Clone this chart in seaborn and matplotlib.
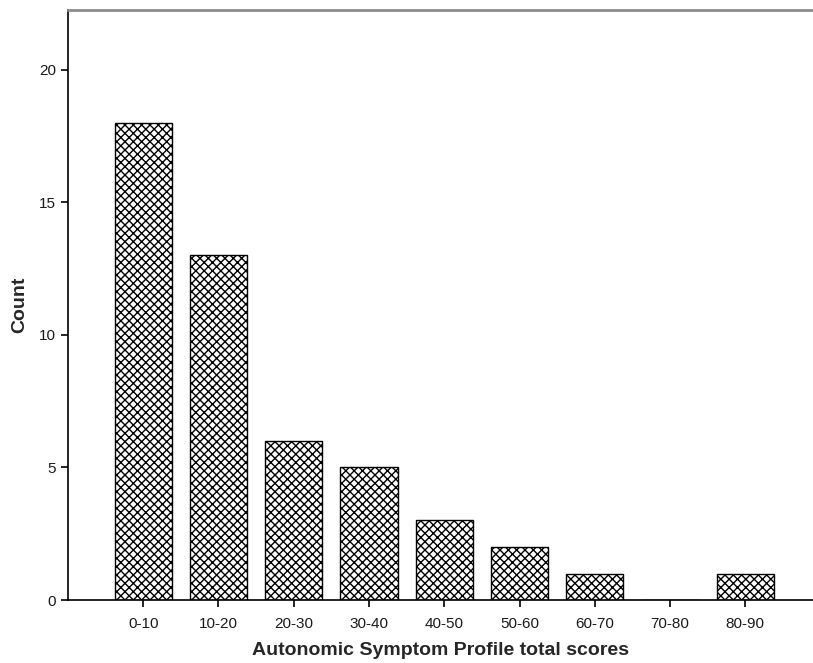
import matplotlib.pyplot as plt
import seaborn as sns
import pandas as pd

score_bins = ["0-10", "10-20", "20-30", "30-40", "40-50", "50-60", "60-70", "70-80", "80-90"]
counts = [18, 13, 6, 5, 3, 2, 1, 0, 1]

df = pd.DataFrame({"bin": score_bins, "count": counts})

sns.set_style("white")
plt.rcParams["font.family"] = ["Liberation Sans", "DejaVu Sans"]
plt.rcParams["hatch.linewidth"] = 1.0
plt.rcParams["hatch.color"] = "black"

fig = plt.figure(figsize=(8.13, 6.63), dpi=100)
ax = fig.add_axes([0.0836, 0.095, 0.9164, 0.890])

sns.barplot(x="bin", y="count", data=df, order=score_bins, color="white",
            edgecolor="black", linewidth=1.0, width=0.76, ax=ax)
for patch in ax.patches:
    patch.set_hatch("xxxx")

ax.set_xlim(-1.0, 8.9)
ax.set_ylim(0, 22.26)
ax.set_yticks([0, 5, 10, 15, 20])

ax.spines["right"].set_visible(False)
ax.spines["top"].set_color("#8c8c8c")
ax.spines["top"].set_linewidth(2)
ax.spines["left"].set_color("black")
ax.spines["bottom"].set_color("black")
ax.spines["left"].set_linewidth(1.2)
ax.spines["bottom"].set_linewidth(1.2)

ax.tick_params(axis="both", direction="out", length=5, width=1.2, color="black",
               labelsize=11, labelcolor="#1a1a1a", left=True, bottom=True)
ax.tick_params(axis="x", pad=7)

ax.set_xlabel("Autonomic Symptom Profile total scores", fontsize=14, fontweight="bold", labelpad=8)
ax.set_ylabel("Count", fontsize=14, fontweight="bold", labelpad=8)

fig.savefig("out.png", dpi=100)
plt.close()
